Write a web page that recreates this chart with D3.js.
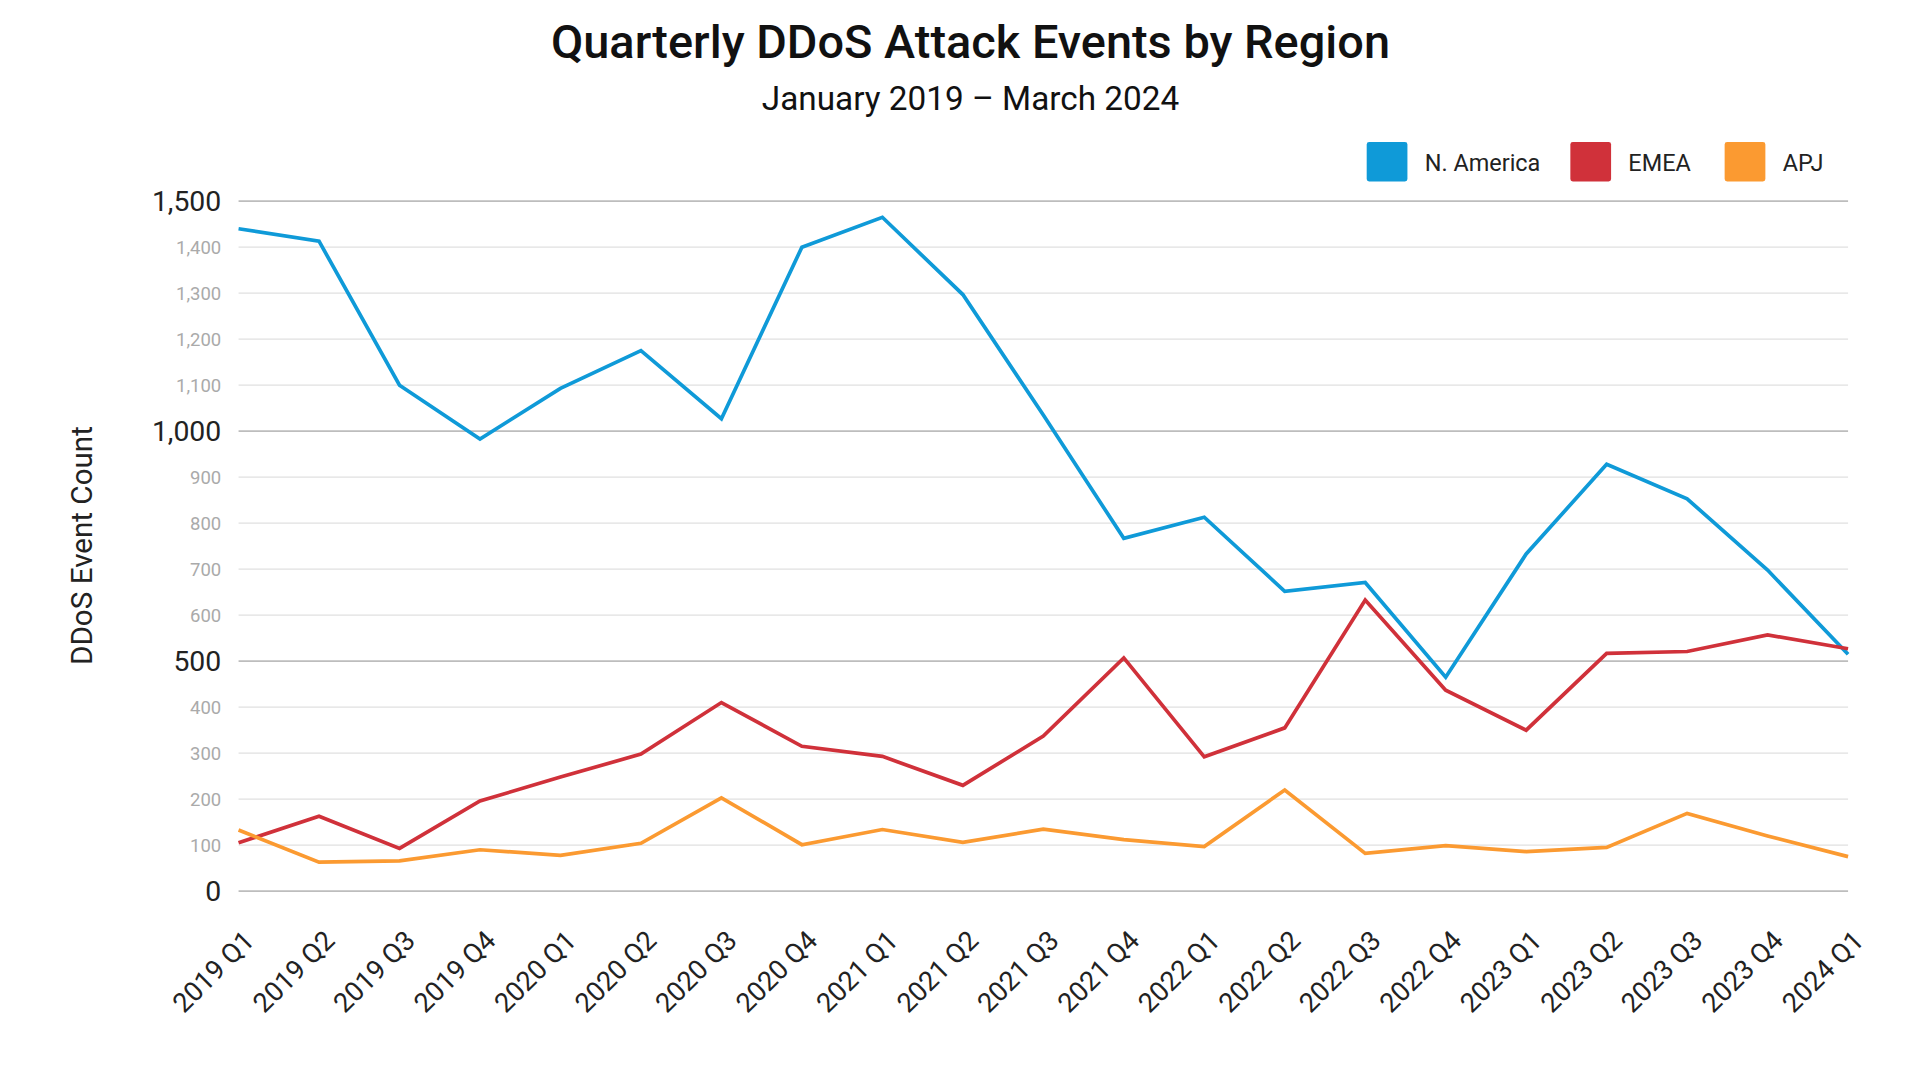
<!DOCTYPE html>
<html><head><meta charset="utf-8">
<script src="https://cdn.jsdelivr.net/npm/d3@7"></script>
<style>body{margin:0;background:#fff}svg{display:block;font-family:Roboto,sans-serif}</style>
</head><body><svg id="c" width="1920" height="1080" viewBox="0 0 1555 875"></svg>
<script>
const categories=["2019 Q1","2019 Q2","2019 Q3","2019 Q4","2020 Q1","2020 Q2","2020 Q3","2020 Q4","2021 Q1","2021 Q2","2021 Q3","2021 Q4","2022 Q1","2022 Q2","2022 Q3","2022 Q4","2023 Q1","2023 Q2","2023 Q3","2023 Q4","2024 Q1"];
const naValues=[1440,1413,1100,983,1093,1175,1027,1400,1465,1297,1035,767,813,652,671,465,733,928,853,698,515];
const emeaValues=[105,163,93,196,248,298,410,315,293,230,337,507,292,355,633,437,350,517,521,557,527];
const apjValues=[133,63,66,90,78,104,203,101,134,106,135,112,97,220,82,99,86,95,169,120,75];
const seriesNames=["N. America","EMEA","APJ"];
const seriesColors=["#0f9ad8","#d0313a","#fb9a31"];
const yTicks=[0,100,200,300,400,500,600,700,800,900,1000,1100,1200,1300,1400,1500];
const series=[naValues,emeaValues,apjValues];

const svg=d3.select("#c");
const L=193,R=1497,T=163,B=722;
const x=d3.scalePoint().domain(categories).range([L,R]);
const y=d3.scaleLinear().domain([0,1500]).range([B,T]);
const fmt=d3.format(",");
const major=v=>v%500===0;

svg.append("g").selectAll("line").data(yTicks).join("line")
 .attr("x1",L).attr("x2",R).attr("y1",d=>y(d)).attr("y2",d=>y(d))
 .attr("stroke",d=>major(d)?"#bdbdbd":"#e0e0e0").attr("stroke-width",d=>major(d)?1.5:1);
svg.append("g").selectAll("text").data(yTicks).join("text")
 .attr("x",179).attr("y",d=>y(d)).attr("dy","0.35em").attr("text-anchor","end")
 .attr("font-size",d=>major(d)?23:15).attr("fill",d=>major(d)?"#222":"#aaa").text(d=>fmt(d));

const xa=svg.append("g").attr("transform",`translate(0,${B})`).call(d3.axisBottom(x).tickSize(0).tickPadding(0));
xa.select(".domain").remove();
xa.selectAll("text").attr("font-size",22).attr("fill","#222").attr("font-family","Roboto")
 .attr("text-anchor","end").attr("transform","translate(8,36) rotate(-45)").attr("dy","0.35em");

const line=d3.line().x((d,i)=>x(categories[i])).y(d=>y(d));
series.forEach((s,k)=>svg.append("path").datum(s).attr("d",line).attr("fill","none")
 .attr("stroke",seriesColors[k]).attr("stroke-width",3).attr("stroke-linejoin","miter"));

svg.append("text").attr("x",786).attr("y",47).attr("text-anchor","middle").attr("font-size",38).attr("font-weight",500).attr("fill","#111").text("Quarterly DDoS Attack Events by Region");
svg.append("text").attr("x",786).attr("y",89).attr("text-anchor","middle").attr("font-size",27).attr("fill","#111").text("January 2019 – March 2024");
svg.append("text").attr("transform","translate(74,442) rotate(-90)").attr("text-anchor","middle").attr("font-size",24).attr("fill","#222").text("DDoS Event Count");

const lx=[1107,1272,1397];
seriesNames.forEach((n,k)=>{
 svg.append("rect").attr("x",lx[k]).attr("y",115).attr("width",33).attr("height",32).attr("rx",2).attr("fill",seriesColors[k]);
 svg.append("text").attr("x",lx[k]+47).attr("y",132).attr("dy","0.35em").attr("font-size",19).attr("fill","#222").text(n);
});
</script></body></html>
